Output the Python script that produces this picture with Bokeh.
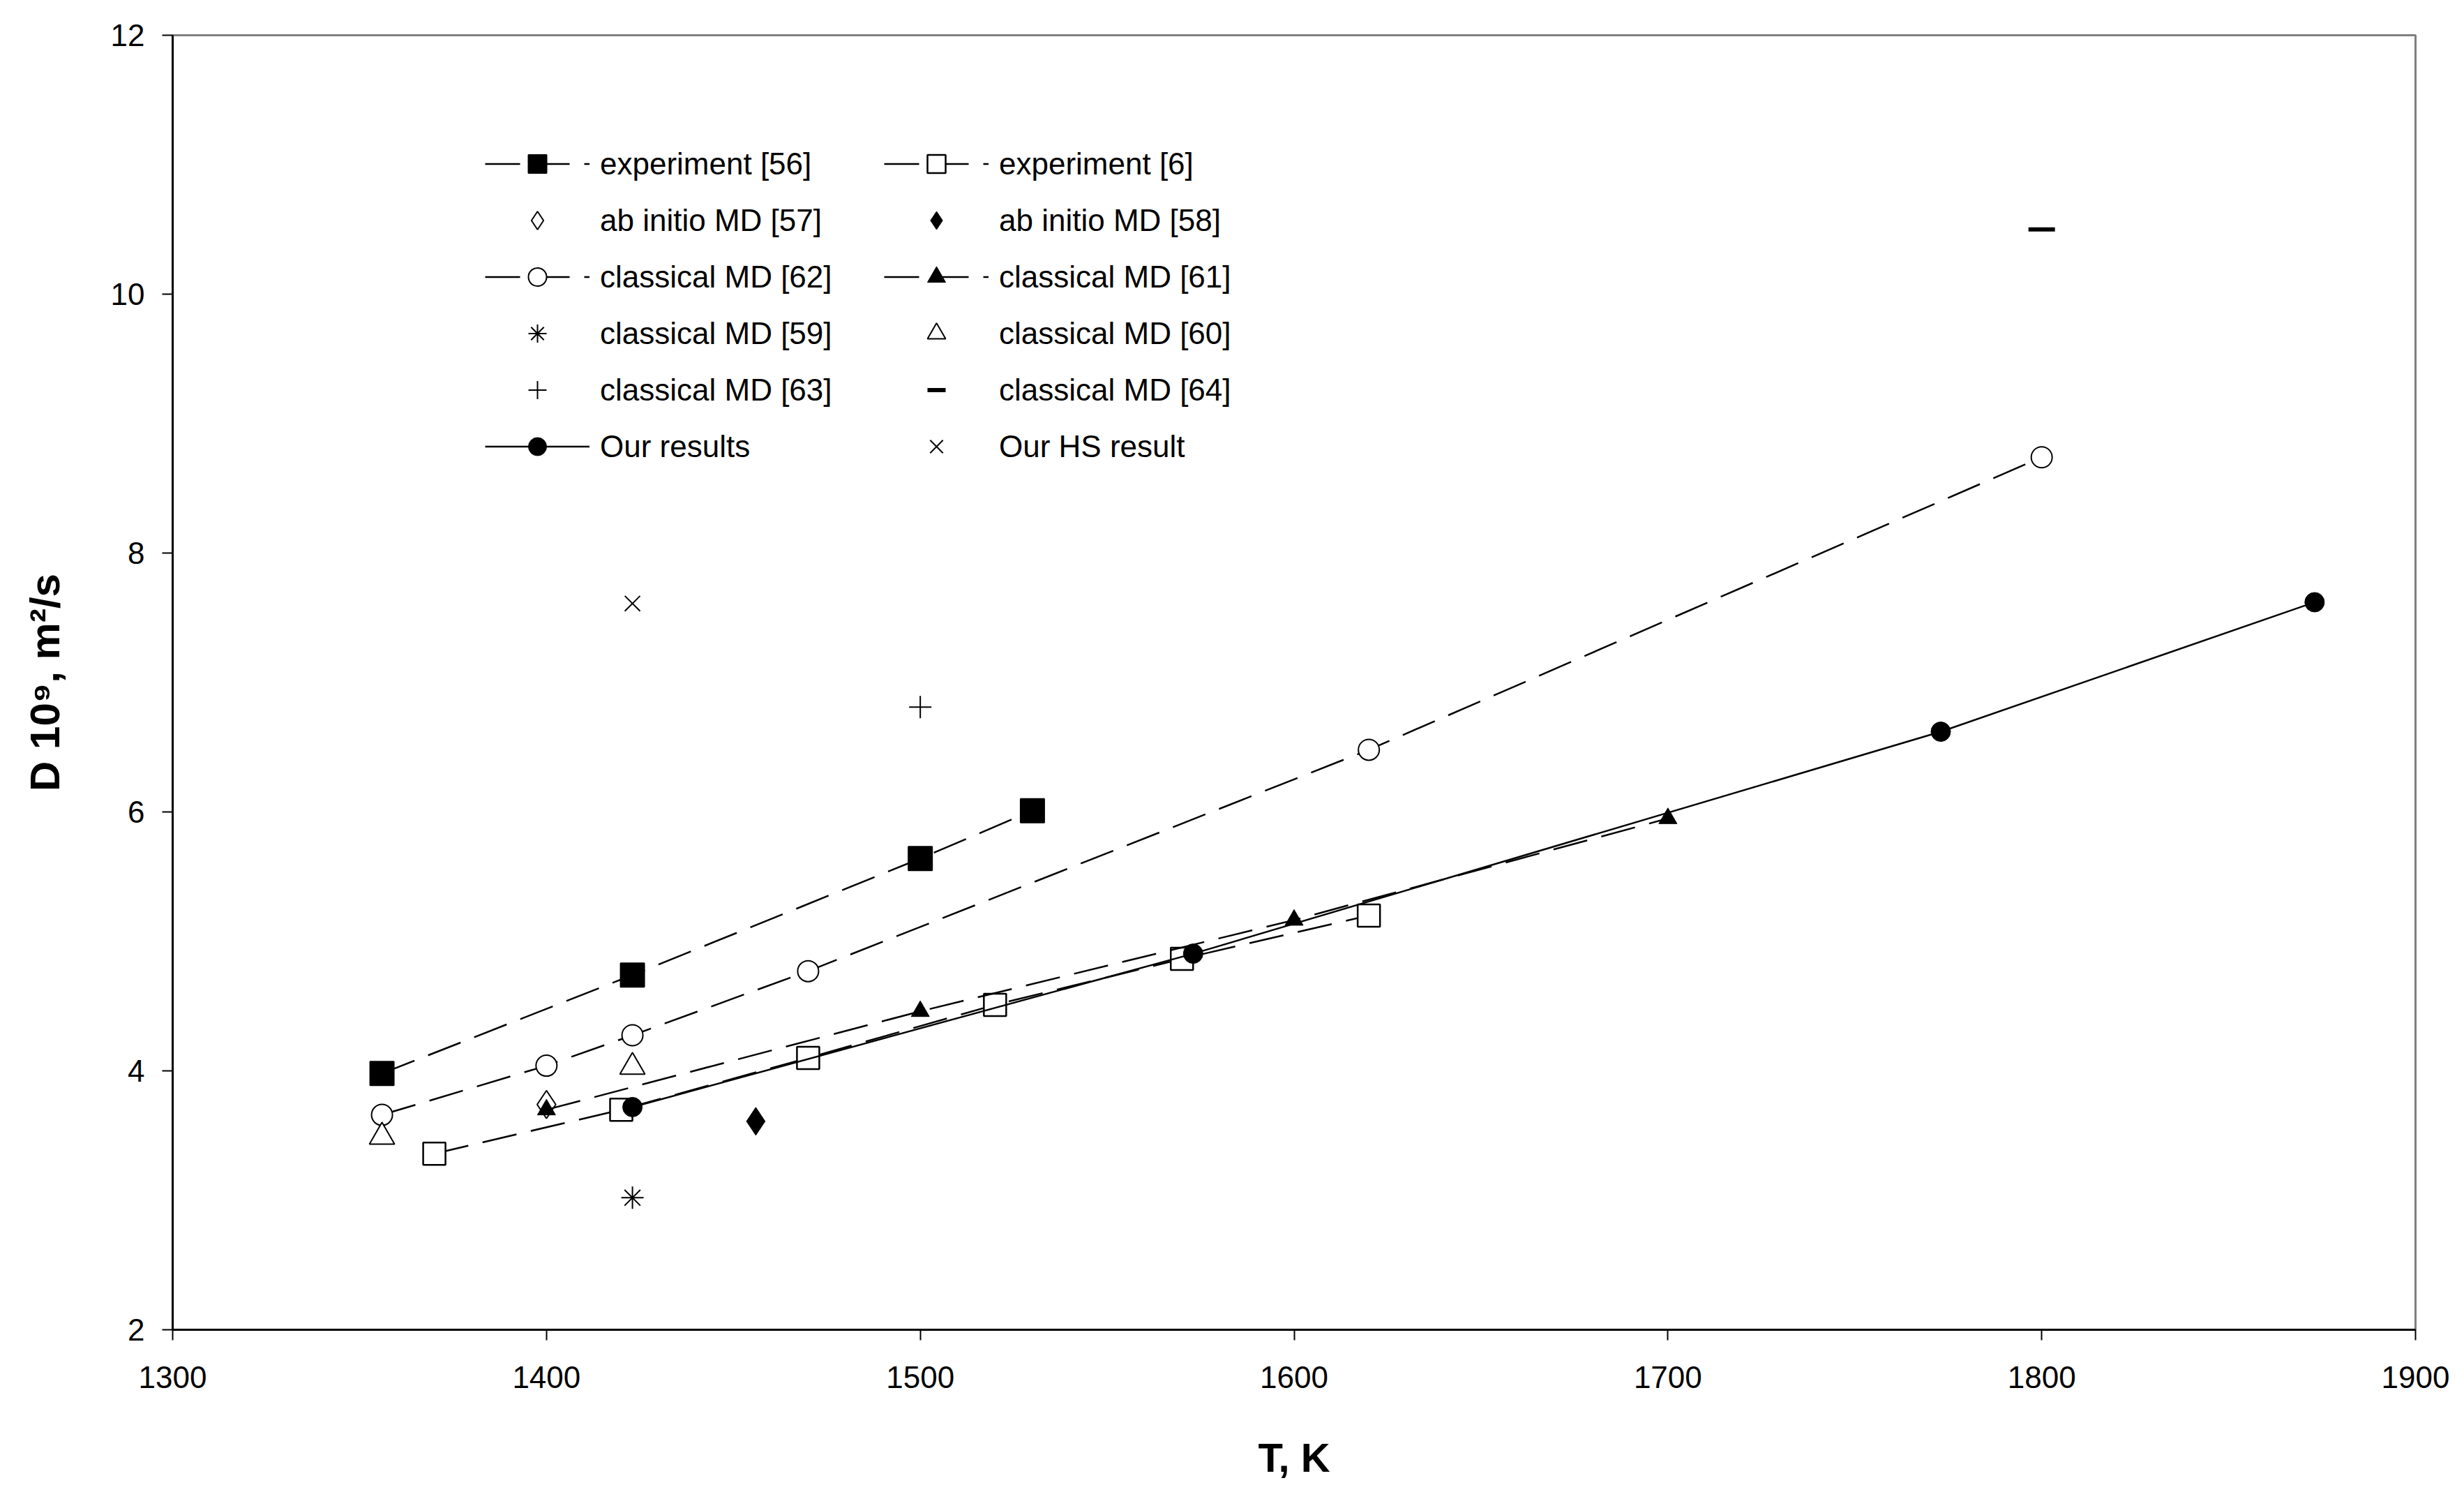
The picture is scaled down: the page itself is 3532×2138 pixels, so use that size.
from bokeh.plotting import figure
from bokeh.models import Legend, LegendItem, FixedTicker, Range1d
from bokeh.embed import file_html
from bokeh.resources import INLINE

# ---------------- data ----------------
x_ticks = [1300, 1400, 1500, 1600, 1700, 1800, 1900]
y_ticks = [2, 4, 6, 8, 10, 12]

exp56_T = [1356, 1423, 1500, 1530]
exp56_D = [3.98, 4.74, 5.64, 6.01]

exp6_T = [1370, 1420, 1470, 1520, 1570, 1620]
exp6_D = [3.36, 3.70, 4.10, 4.51, 4.865, 5.20]

ab57_T = [1400]
ab57_D = [3.74]

ab58_T = [1456]
ab58_D = [3.61]

cl62_T = [1356, 1400, 1423, 1470, 1620, 1800]
cl62_D = [3.66, 4.04, 4.275, 4.77, 6.48, 8.74]

cl61_T = [1400, 1500, 1600, 1700]
cl61_D = [3.70, 4.46, 5.165, 5.95]

cl59_T = [1423]
cl59_D = [3.02]

cl60_T = [1356, 1423]
cl60_D = [3.49, 4.03]

cl63_T = [1500]
cl63_D = [6.81]

cl64_T = [1800]
cl64_D = [10.50]

our_T = [1423, 1573, 1773, 1873]
our_D = [3.72, 4.905, 6.62, 7.62]

hs_T = [1423]
hs_D = [7.61]

FONT = "Liberation Sans"
DASH = "50 21"
LW = 2.5

p = figure(frame_width=3215, frame_height=1855,
           min_border_left=247, min_border_right=60,
           min_border_top=50, min_border_bottom=224,
           x_range=Range1d(1300, 1900), y_range=Range1d(2, 12),
           output_backend="svg", toolbar_location=None,
           background_fill_color="white", border_fill_color="white")

p.grid.visible = False
p.outline_line_color = "#808080"
p.outline_line_width = 3

p.xaxis.ticker = FixedTicker(ticks=x_ticks)
p.yaxis.ticker = FixedTicker(ticks=y_ticks)
for ax in (p.xaxis[0], p.yaxis[0]):
    ax.axis_line_color = "black"
    ax.axis_line_width = 3
    ax.major_tick_line_color = "black"
    ax.major_tick_line_width = 2
    ax.major_tick_out = 15
    ax.major_tick_in = 0
    ax.minor_tick_line_color = None
    ax.major_label_text_font = FONT
    ax.major_label_text_font_size = "44px"
    ax.major_label_text_color = "black"
    ax.axis_label_text_font = FONT
    ax.axis_label_text_font_style = "bold"
    ax.axis_label_text_color = "black"
p.xaxis.major_label_standoff = 37
p.yaxis.major_label_standoff = 25
p.xaxis.axis_label = "T, K"
p.xaxis.axis_label_text_font_size = "58px"
p.xaxis.axis_label_standoff = 64
p.yaxis.axis_label = "D 10\u2079, m\u00b2/s"
p.yaxis.axis_label_text_font_size = "60px"
p.yaxis.axis_label_standoff = 58

items = {}

def series(key, label, T, D, marker, size, fill, line=None, mlw=2.0):
    rs = []
    if line is not None:
        rs.append(p.line(T, D, line_color="black", line_width=LW, line_dash=line))
    rs.append(p.scatter(T, D, marker=marker, size=size, fill_color=fill,
                        line_color="black", line_width=mlw))
    items[key] = LegendItem(label=label, renderers=rs)

series("exp56", "experiment [56]", exp56_T, exp56_D, "square", 34, "black", DASH)
series("exp6", "experiment [6]", exp6_T, exp6_D, "square", 32, "white", DASH, 2.5)
series("ab57", "ab initio MD [57]", ab57_T, ab57_D, "diamond", 40, "white", None, 2.0)
series("ab58", "ab initio MD [58]", ab58_T, ab58_D, "diamond", 40, "black", None, 1.0)
series("cl62", "classical MD [62]", cl62_T, cl62_D, "circle", 30, "white", DASH, 2.0)
series("cl61", "classical MD [61]", cl61_T, cl61_D, "triangle", 26, "black", DASH, 1.0)
series("cl59", "classical MD [59]", cl59_T, cl59_D, "asterisk", 32, None, None, 2.0)
series("cl60", "classical MD [60]", cl60_T, cl60_D, "triangle", 36, "white", None, 2.0)
series("cl63", "classical MD [63]", cl63_T, cl63_D, "cross", 32, None, None, 2.0)
series("cl64", "classical MD [64]", cl64_T, cl64_D, "dash", 38, None, None, 6.0)
series("our", "Our results", our_T, our_D, "circle", 28, "black", "solid", 1.0)
series("hs", "Our HS result", hs_T, hs_D, "x", 31, None, None, 2.0)

order = ["exp56", "ab57", "cl62", "cl59", "cl63", "our",
         "exp6", "ab58", "cl61", "cl60", "cl64", "hs"]

legend = Legend(items=[items[k] for k in order], location=(448, 1233),
                orientation="vertical", ncols=2,
                glyph_width=150, glyph_height=65, label_height=65,
                label_width=391, label_standoff=15, spacing=16,
                padding=0, margin=0, border_line_color=None,
                background_fill_alpha=0,
                label_text_font=FONT, label_text_font_size="44px",
                label_text_color="black")
p.add_layout(legend)

open("out.html", "w").write(file_html(p, INLINE))
